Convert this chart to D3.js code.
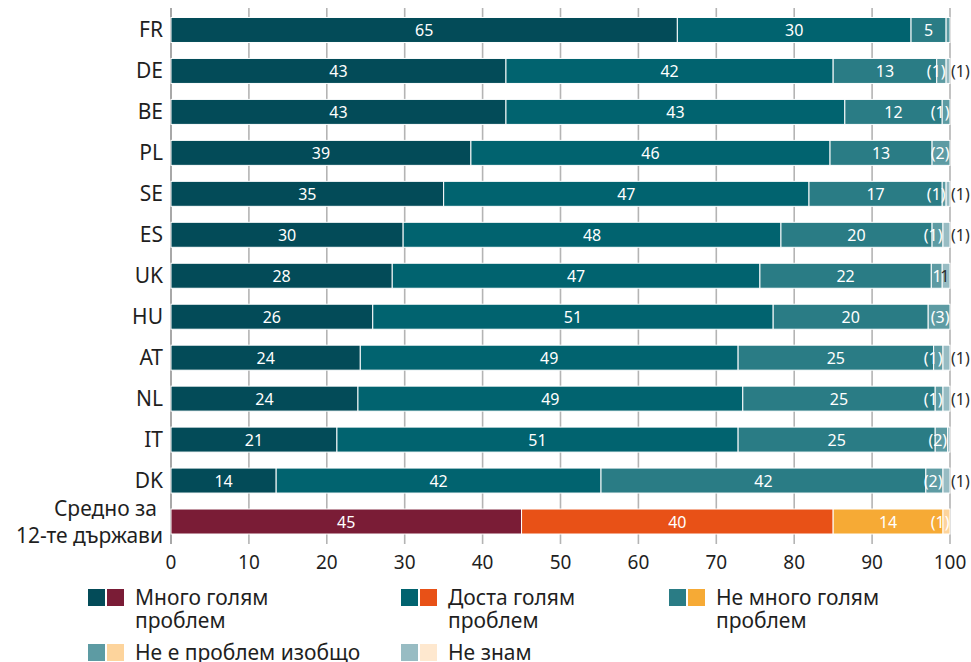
<!DOCTYPE html>
<html>
<head>
<meta charset="utf-8">
<script src="https://cdn.jsdelivr.net/npm/d3@7"></script>
<style>
  body { margin: 0; background: #fff; }
  text { font-family: "Noto Sans", "Open Sans", sans-serif; }
</style>
</head>
<body>
<div class="container"></div>
<script>
// rows, top to bottom
const countries = ['FR', 'DE', 'BE', 'PL', 'SE', 'ES', 'UK', 'HU', 'AT', 'NL', 'IT', 'DK', 'AVG'];
const avgLabel = ['Средно за', '12-те държави'];

const seriesNames = [
    ['Много голям', 'проблем'],
    ['Доста голям', 'проблем'],
    ['Не много голям', 'проблем'],
    ['Не е проблем изобщо'],
    ['Не знам']
];

// shares (%)
const veryBig  = [65,   43,   43,   38.5, 35,   29.8, 28.4, 25.9, 24.3, 24,   21.3, 13.5, 45];
const quiteBig = [30,   42,   43.5, 46.1, 46.9, 48.5, 47.2, 51.4, 48.5, 49.4, 51.5, 41.7, 40];
const notVery  = [4.5,  13.3, 12.5, 13.1, 17.1, 19.4, 22,   19.9, 25.1, 24.7, 25.3, 41.7, 14.1];
const notAtAll = [0.5,  1.2,  1,    2.3,  0.5,  1.4,  1.4,  2.8,  1.2,  1,    1.6,  2.2,  0.9];
const dontKnow = [0,    0.5,  0,    0,    0.5,  0.9,  1,    0,    0.9,  0.9,  0.3,  0.9,  0];

// printed labels
const lab1 = ['65', '43', '43', '39', '35', '30', '28', '26', '24', '24', '21', '14', '45'];
const lab2 = ['30', '42', '43', '46', '47', '48', '47', '51', '49', '49', '51', '42', '40'];
const lab3 = ['5', '13', '12', '13', '17', '20', '22', '20', '25', '25', '25', '42', '14'];
const lab4 = ['', '(1)', '(1)', '(2)', '(1)', '(1)', '1', '(3)', '(1)', '(1)', '(2)', '(2)', '(1)'];
const lab5 = ['', '(1)', '', '', '(1)', '(1)', '1', '', '(1)', '(1)', '', '(1)', ''];

const xTicks = [0, 10, 20, 30, 40, 50, 60, 70, 80, 90, 100];

const tealColors = ['#034b58', '#01636f', '#2a7c85', '#5d9ba3', '#98bcc3'];
const avgColors  = ['#7a1c36', '#e85117', '#f6aa35', '#fdd49c', '#fee8cf'];

const values = [veryBig, quiteBig, notVery, notAtAll, dontKnow];
const labels = [lab1, lab2, lab3, lab4, lab5];

const width = 971, height = 662;
const svg = d3.select('.container').append('svg')
    .attr('width', width)
    .attr('height', height);

const x = d3.scaleLinear().domain([0, 100]).range([171, 950]);
const y = d3.scaleBand().domain(countries).range([9.5, 542])
    .paddingInner(0.39).paddingOuter(0.195);

// gridlines behind the bars
svg.append('g')
    .selectAll('line')
    .data(xTicks)
    .enter().append('line')
    .attr('x1', d => x(d)).attr('x2', d => x(d))
    .attr('y1', 8).attr('y2', 544)
    .attr('stroke', d => d === 0 ? '#a8a8a8' : '#b4b4b4')
    .attr('stroke-width', d => d === 0 ? 2 : 1.6);

// stack the rows
const rows = countries.map((c, i) => {
    let acc = 0;
    return values.map((s, k) => {
        const seg = {c, i, k, x0: acc, x1: acc + s[i], v: s[i], label: labels[k][i]};
        acc += s[i];
        return seg;
    });
});
const segs = rows.flat();

svg.append('g')
    .selectAll('rect')
    .data(segs.filter(d => d.v > 0))
    .enter().append('rect')
    .attr('x', d => x(d.x0))
    .attr('width', d => x(d.x1) - x(d.x0))
    .attr('y', d => y(d.c))
    .attr('height', y.bandwidth())
    .attr('fill', d => (d.c === 'AVG' ? avgColors : tealColors)[d.k])
    .attr('stroke', '#fff')
    .attr('stroke-width', 1);

// segment labels
svg.append('g')
    .selectAll('text')
    .data(segs.filter(d => d.label !== ''))
    .enter().append('text')
    .attr('x', d => {
        if (d.k === 4 && d.label[0] === '(') return x(100) + 1;
        if (d.v < 4) return x(d.x1) - 0.5;
        return (x(d.x0) + x(d.x1)) / 2;
    })
    .attr('y', d => y(d.c) + y.bandwidth() / 2 + 6)
    .attr('text-anchor', d => {
        if (d.k === 4 && d.label[0] === '(') return 'start';
        if (d.v < 4) return 'end';
        return 'middle';
    })
    .attr('font-size', 16)
    .attr('fill', d => d.k === 4 ? '#2b2b2b' : '#fff')
    .text(d => d.label);

// row labels
const rowLab = svg.append('g')
    .selectAll('text')
    .data(countries)
    .enter().append('text')
    .attr('x', 163)
    .attr('y', d => y(d) + y.bandwidth() / 2 + 7.5)
    .attr('text-anchor', 'end')
    .attr('font-size', 21)
    .attr('fill', '#1f1f1f');
rowLab.filter(d => d !== 'AVG').text(d => d);
rowLab.filter(d => d === 'AVG')
    .attr('y', null)
    .selectAll('tspan')
    .data(avgLabel)
    .enter().append('tspan')
    .attr('x', (d, j) => j === 0 ? 157 : 163)
    .attr('y', (d, j) => y('AVG') + y.bandwidth() / 2 - 6 + j * 27)
    .text(d => d);

// x tick labels
svg.append('g')
    .selectAll('text')
    .data(xTicks)
    .enter().append('text')
    .attr('x', d => x(d))
    .attr('y', 569)
    .attr('text-anchor', 'middle')
    .attr('font-size', 19)
    .attr('fill', '#1f1f1f')
    .text(d => d);

// legend
const legendPos = [[88, 598], [401, 598], [669, 598], [88, 653], [401, 653]];
const legend = svg.append('g')
    .selectAll('g')
    .data(seriesNames)
    .enter().append('g')
    .attr('transform', (d, k) => `translate(${legendPos[k][0]},${legendPos[k][1]})`);

legend.append('rect')
    .attr('x', 0).attr('y', -9).attr('width', 17).attr('height', 17)
    .attr('fill', (d, k) => tealColors[k]);
legend.append('rect')
    .attr('x', 19).attr('y', -9).attr('width', 17).attr('height', 17)
    .attr('fill', (d, k) => avgColors[k]);
legend.append('text')
    .attr('font-size', 21)
    .attr('fill', '#1f1f1f')
    .selectAll('tspan')
    .data(d => d)
    .enter().append('tspan')
    .attr('x', 47)
    .attr('y', (d, j) => 7 + j * 23)
    .text(d => d);
</script>
</body>
</html>
